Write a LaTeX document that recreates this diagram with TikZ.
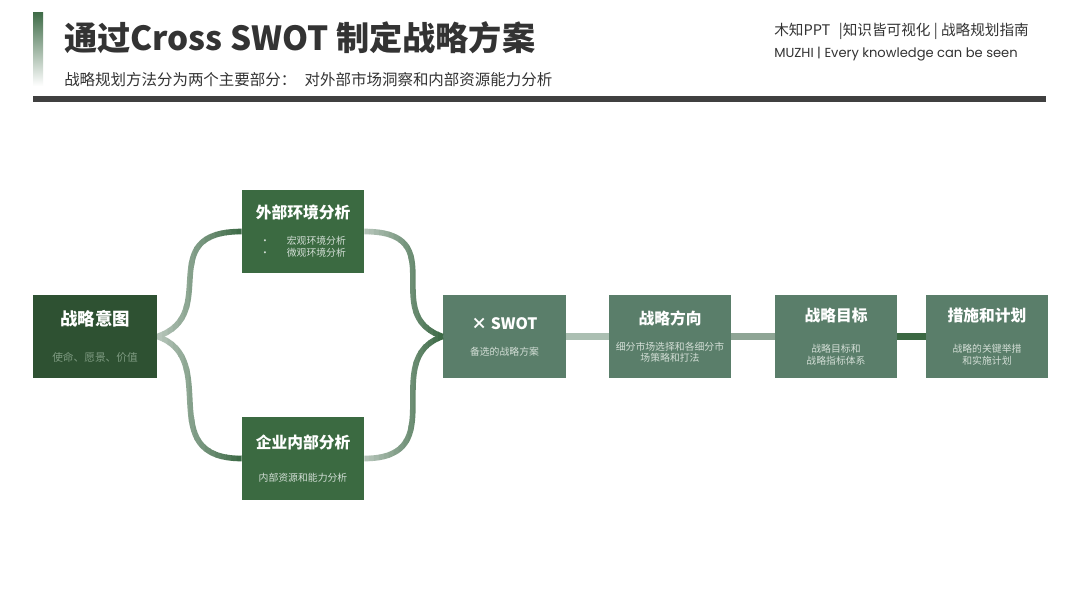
\documentclass[tikz,border=0pt]{standalone}
\usepackage{fontspec}
\setmainfont{Noto Sans CJK SC}
\newfontfamily\brandfont{Poppins}
\usetikzlibrary{positioning, calc}

\definecolor{intentgreen}{HTML}{2E5132}
\definecolor{analysisgreen}{HTML}{3B6A41}
\definecolor{stepgreen}{HTML}{5A7E6A}
\definecolor{curvedark}{HTML}{3E6B47}
\definecolor{curvelight}{HTML}{B5C4B9}
\definecolor{linkpale}{HTML}{ABBFB2}
\definecolor{linkmid}{HTML}{8EA595}
\definecolor{linkdark}{HTML}{3B6843}
\definecolor{notepale}{HTML}{D3DED6}
\definecolor{intentnote}{HTML}{7E9A81}
\definecolor{headbar}{HTML}{404040}
\definecolor{headtext}{HTML}{333333}

\newcommand{\boxhead}[1]{{\fontsize{11.2}{13}\selectfont\bfseries #1}}
\newcommand{\boxnote}[1]{{\color{notepale}#1}}

\tikzset{
  stepbox/.style={minimum width=3.05cm, minimum height=2.075cm, inner sep=0pt,
    align=center, text=white, font=\fontsize{7}{8.5}\selectfont},
  curve/.style={line width=4pt},
  link/.style={line width=4.3pt}
}

\begin{document}
\begin{tikzpicture}[x=0.025cm, y=-0.025cm]
  \useasboundingbox (0,0) rectangle (1080,608);
  \fill[white] (0,0) rectangle (1080,608);

  % header
  \shade[top color=curvedark, bottom color=white] (33,12) rectangle (43,86);
  \node[anchor=west, inner sep=0pt, text=headtext, font=\fontsize{23.6}{26}\selectfont\bfseries] (title) at (64,38) {通过Cross SWOT 制定战略方案};
  \node[anchor=west, inner sep=0pt, text=headtext, font=\fontsize{11}{13}\selectfont] (subtitle) at (64,80) {战略规划方法分为两个主要部分：\hspace{6pt}对外部市场洞察和内部资源能力分析};
  \node[anchor=west, inner sep=0pt, text=headtext, font=\fontsize{10.4}{12}\selectfont] (brand) at (774,31) {木知PPT\hspace{6pt}|知识皆可视化 | 战略规划指南};
  \node[anchor=west, inner sep=0pt, text=headtext, font=\brandfont\fontsize{9.3}{11}\selectfont] (motto) at (774,54) {MUZHI | Every knowledge can be seen};
  \fill[headbar] (33,96) rectangle (1046,102);

  % boxes
  \node[stepbox, fill=intentgreen, minimum width=3.1cm] (intent) at (95,336.5)
    {{\fontsize{12.4}{14}\selectfont\bfseries 战略意图}\\[17pt]{\fontsize{7.6}{9}\selectfont\color{intentnote}使命、愿景、价值}};
  \node[stepbox, fill=analysisgreen] (ext) at (303,231.5)
    {\boxhead{外部环境分析}\\[10pt]\boxnote{•\hspace{12pt}宏观环境分析}\\\boxnote{•\hspace{12pt}微观环境分析}};
  \node[stepbox, fill=analysisgreen] (int) at (303,458.5)
    {\boxhead{企业内部分析}\\[15pt]\boxnote{内部资源和能力分析}};
  \node[stepbox, fill=stepgreen, minimum width=3.075cm] (swot) at (504.5,336.5)
    {\boxhead{× SWOT}\\[10pt]\boxnote{备选的战略方案}};
  \node[stepbox, fill=stepgreen] (dir) at (670,336.5)
    {\boxhead{战略方向}\\[10pt]\boxnote{细分市场选择和各细分市}\\\boxnote{场策略和打法}};
  \node[stepbox, fill=stepgreen] (goal) at (836,336.5)
    {\boxhead{战略目标}\\[14pt]\boxnote{战略目标和}\\\boxnote{战略指标体系}};
  \node[stepbox, fill=stepgreen] (act) at (987,336.5)
    {\boxhead{措施和计划}\\[14pt]\boxnote{战略的关键举措}\\\boxnote{和实施计划}};

  % curved links, light to dark
  \foreach \i in {0,...,15}{
    \pgfmathtruncatemacro\mix{100*\i/15}
    \begin{scope}
      \clip ({157+\i*85/16},150) rectangle ({157+(\i+1)*85/16+0.6},520);
      \draw[curve, curvedark!\mix!curvelight] (intent.east) .. controls +(65,-22) and +(-90,0) .. (ext.west);
      \draw[curve, curvedark!\mix!curvelight] (intent.east) .. controls +(65,22) and +(-90,0) .. (int.west);
    \end{scope}
    \begin{scope}
      \clip ({364+\i*79/16},150) rectangle ({364+(\i+1)*79/16+0.6},520);
      \draw[curve, curvedark!\mix!curvelight] (ext.east) .. controls +(90,0) and +(-65,-22) .. (swot.west);
      \draw[curve, curvedark!\mix!curvelight] (int.east) .. controls +(90,0) and +(-65,22) .. (swot.west);
    \end{scope}
  }

  % straight links
  \draw[link, linkpale] (swot.east) -- (dir.west);
  \draw[link, linkmid] (dir.east) -- (goal.west);
  \draw[link, linkdark, line width=5pt] (goal.east) -- (act.west);
\end{tikzpicture}
\end{document}
